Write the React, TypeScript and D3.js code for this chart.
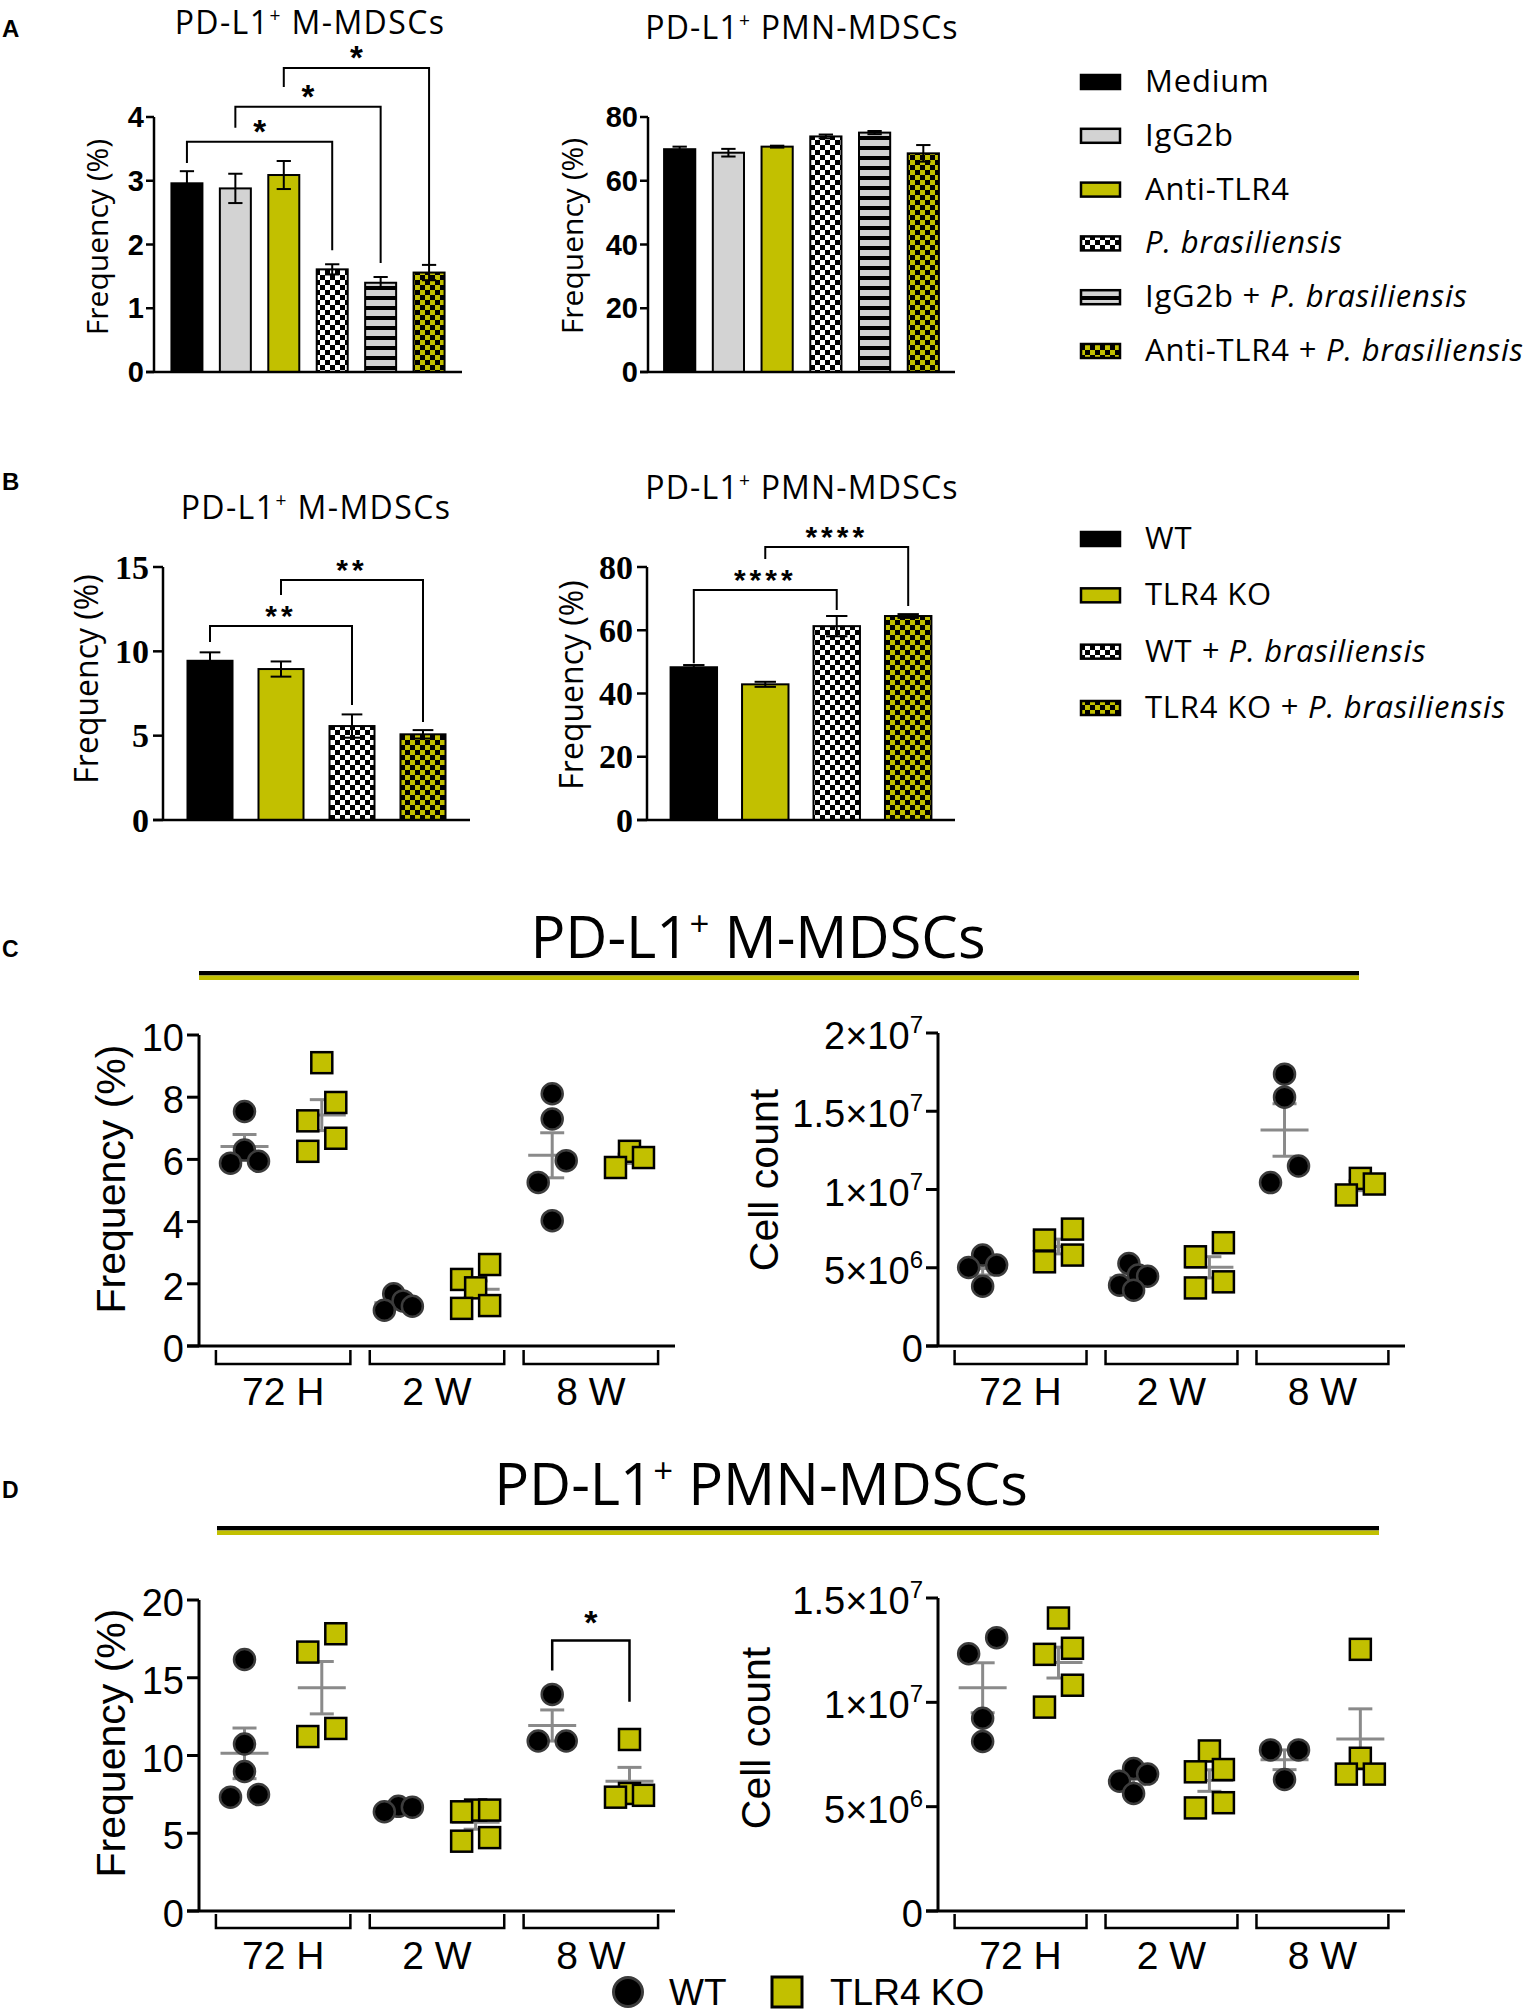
import React from "react";
import * as d3 from "d3";

// ---------------- DATA ----------------
const treatmentsA = ["Medium", "IgG2b", "Anti-TLR4", "P. brasiliensis", "IgG2b + P. brasiliensis", "Anti-TLR4 + P. brasiliensis"];
const aMMean = [2.96, 2.88, 3.09, 1.61, 1.4, 1.56];
const aMSem = [0.19, 0.23, 0.22, 0.08, 0.09, 0.12];
const aPMNMean = [69.9, 68.8, 70.7, 73.9, 75.1, 68.6];
const aPMNSem = [0.8, 1.2, 0.3, 0.6, 0.5, 2.6];
const aMTicks = [0, 1, 2, 3, 4];
const aPMNTicks = [0, 20, 40, 60, 80];
const aMSig = [
  { from: 0, to: 3, y: 3.61, l: 3.28, r: 1.91, label: "*" },
  { from: 1, to: 4, y: 4.16, l: 3.83, r: 1.71, label: "*" },
  { from: 2, to: 5, y: 4.77, l: 4.47, r: 1.68, label: "*" },
];

const groupsB = ["WT", "TLR4 KO", "WT + P. brasiliensis", "TLR4 KO + P. brasiliensis"];
const groupsBItalicFrom = [-1, -1, 3, 10];
const bMMean = [9.44, 8.95, 5.57, 5.08];
const bMSem = [0.5, 0.45, 0.69, 0.25];
const bPMNMean = [48.3, 42.9, 61.3, 64.5];
const bPMNSem = [0.7, 0.8, 3.2, 0.6];
const bMTicks = [0, 5, 10, 15];
const bPMNTicks = [0, 20, 40, 60, 80];
const bMSig = [
  { from: 0, to: 2, y: 11.5, l: 10.55, r: 6.82, label: "**" },
  { from: 1, to: 3, y: 14.23, l: 13.34, r: 5.81, label: "**" },
];
const bPMNSig = [
  { from: 0, to: 2, y: 72.7, l: 49.6, r: 66.4, label: "****" },
  { from: 1, to: 3, y: 86.3, l: 82.5, r: 67.7, label: "****" },
];

const timepoints = ["72 H", "2 W", "8 W"];
const genotypes = ["WT", "TLR4 KO"];

// C: PD-L1+ M-MDSCs
const cFreqWT = [[7.54, 6.3, 5.94, 5.88], [1.68, 1.45, 1.28, 1.15], [8.11, 7.3, 5.96, 5.26, 4.03]];
const cFreqKO = [[9.11, 7.83, 7.24, 6.68, 6.26], [2.62, 2.14, 1.87, 1.3, 1.21], [6.26, 6.06, 5.74]];
const cCountWT = [[5.81, 5.17, 5.02, 3.82], [5.27, 4.53, 4.46, 3.88, 3.56], [17.37, 15.9, 11.5, 10.44]]; // x10^6
const cCountKO = [[7.47, 6.77, 5.81, 5.38], [6.6, 5.7, 4.1, 3.71], [10.71, 10.35, 9.65]]; // x10^6
const cFreqTicks = [0, 2, 4, 6, 8, 10];
const cCountTicks = [0, 5, 10, 15, 20]; // x10^6

// D: PD-L1+ PMN-MDSCs
const dFreqWT = [[16.17, 10.74, 8.97, 7.49, 7.32], [6.73, 6.68, 6.38], [13.93, 10.93, 10.93]];
const dFreqKO = [[17.83, 16.65, 11.74, 11.22], [6.49, 6.49, 6.38, 4.72, 4.49], [11.03, 7.56, 7.44, 7.32]];
const dCountWT = [[13.1, 12.33, 9.24, 8.12], [6.83, 6.56, 6.22, 5.63], [7.72, 7.72, 6.3]]; // x10^6
const dCountKO = [[14.04, 12.59, 12.3, 10.82, 9.77], [7.67, 6.78, 6.67, 5.19, 4.94], [12.54, 7.32, 6.56, 6.56]]; // x10^6
const dFreqTicks = [0, 5, 10, 15, 20];
const dCountTicks = [0, 5, 10, 15]; // x10^6
const dFreqSig = { group: 2, y: 17.4, l: 15.47, r: 13.46, label: "*" };

// ---------------- STYLE ----------------
const OLIVE = "#C2C000";
const LGRAY = "#D3D3D3";
const SEMGRAY = "#8a8a8a";
const SANS = "'Open Sans', 'Noto Sans', sans-serif";
const ARIAL = "'Liberation Sans', Arial, sans-serif";
const SERIF = "'Liberation Serif', 'Times New Roman', serif";
const fillsA = ["#000", LGRAY, OLIVE, "url(#chkW)", "url(#stripe)", "url(#chkO)"];
const fillsB = ["#000", OLIVE, "url(#chkW)", "url(#chkO)"];

type Sig = { from: number; to: number; y: number; l: number; r: number; label: string };

function Defs() {
  return (
    <defs>
      <pattern id="chkW" width={10} height={10} patternUnits="userSpaceOnUse">
        <rect width={10} height={10} fill="#000" />
        <rect width={5} height={5} fill="#fff" />
        <rect x={5} y={5} width={5} height={5} fill="#fff" />
      </pattern>
      <pattern id="chkO" width={10} height={10} patternUnits="userSpaceOnUse">
        <rect width={10} height={10} fill="#000" />
        <rect width={5} height={5} fill={OLIVE} />
        <rect x={5} y={5} width={5} height={5} fill={OLIVE} />
      </pattern>
      <pattern id="stripe" width={10} height={10} patternUnits="userSpaceOnUse">
        <rect width={10} height={10} fill={LGRAY} />
        <rect y={6} width={10} height={4} fill="#000" />
      </pattern>
    </defs>
  );
}

function PDTitle({ x, y, fs, rest, ls = 0 }: { x: number; y: number; fs: number; rest: string; ls?: number }) {
  return (
    <text x={x} y={y} textAnchor="middle" fontFamily={SANS} fontSize={fs} letterSpacing={ls} fill="#000">
      PD-L1
      <tspan fontSize={fs * 0.6} dy={-fs * 0.38}>+</tspan>
      <tspan dy={fs * 0.38}>{" " + rest}</tspan>
    </text>
  );
}

function YLabel({ x, y, fs, text, family }: { x: number; y: number; fs: number; text: string; family: string }) {
  return (
    <text transform={`translate(${x},${y}) rotate(-90)`} textAnchor="middle" fontFamily={family} fontSize={fs} fill="#000">
      {text}
    </text>
  );
}

function BarPanel(p: {
  x0: number; x1: number; y0: number; yTop: number; max: number; ticks: number[];
  means: number[]; sems: number[]; fills: string[]; pi: number; po: number;
  tickFamily: string; tickFs: number; tickLen: number; tickDy: number; tickGap: number;
  sig: Sig[]; starFs: number; starDy: number; starSpacing: number; sw: number;
}) {
  const x = d3.scaleBand<number>().domain(d3.range(p.means.length)).range([p.x0, p.x1]).paddingInner(p.pi).paddingOuter(p.po);
  const y = d3.scaleLinear().domain([0, p.max]).range([p.y0, p.yTop]);
  const bw = x.bandwidth();
  const cx = (i: number) => (x(i) as number) + bw / 2;
  const cap = bw * 0.23;
  return (
    <g>
      {p.means.map((m, i) => (
        <g key={i}>
          <rect x={x(i)} y={y(m)} width={bw} height={p.y0 - y(m)} fill={p.fills[i]} stroke="#000" strokeWidth={2} />
          <line x1={cx(i)} x2={cx(i)} y1={y(m - p.sems[i])} y2={y(m + p.sems[i])} stroke="#000" strokeWidth={2} />
          <line x1={cx(i) - cap} x2={cx(i) + cap} y1={y(m + p.sems[i])} y2={y(m + p.sems[i])} stroke="#000" strokeWidth={2} />
          <line x1={cx(i) - cap} x2={cx(i) + cap} y1={y(m - p.sems[i])} y2={y(m - p.sems[i])} stroke="#000" strokeWidth={2} />
        </g>
      ))}
      <line x1={p.x0} x2={p.x0} y1={p.y0} y2={p.yTop} stroke="#000" strokeWidth={p.sw} />
      <line x1={p.x0 - p.tickLen} x2={p.x1} y1={p.y0} y2={p.y0} stroke="#000" strokeWidth={p.sw} />
      {p.ticks.map((t) => (
        <g key={t}>
          <line x1={p.x0 - p.tickLen} x2={p.x0} y1={y(t)} y2={y(t)} stroke="#000" strokeWidth={p.sw} />
          <text x={p.x0 - p.tickLen - p.tickGap} y={y(t) + p.tickDy} textAnchor="end" fontFamily={p.tickFamily} fontWeight="bold" fontSize={p.tickFs}>
            {t}
          </text>
        </g>
      ))}
      {p.sig.map((s, k) => {
        const xa = cx(s.from), xb = cx(s.to);
        return (
          <g key={k}>
            <path d={`M${xa},${y(s.l)}V${y(s.y)}H${xb}V${y(s.r)}`} fill="none" stroke="#000" strokeWidth={2} />
            <text x={(xa + xb) / 2} y={y(s.y) - p.starDy} textAnchor="middle" fontFamily={ARIAL} fontWeight="bold" fontSize={p.starFs} letterSpacing={p.starSpacing}>
              {s.label}
            </text>
          </g>
        );
      })}
    </g>
  );
}

function swarmOffsets(vals: number[], y: (v: number) => number, half: number, thr: number) {
  const idx = d3.range(vals.length).sort((a, b) => vals[b] - vals[a]);
  const rows: number[][] = [];
  let cur: number[] = [];
  let startY = 0;
  for (const i of idx) {
    const py = y(vals[i]);
    if (cur.length && py - startY <= thr) cur.push(i);
    else {
      if (cur.length) rows.push(cur);
      cur = [i];
      startY = py;
    }
  }
  if (cur.length) rows.push(cur);
  const off = new Array(vals.length).fill(0);
  for (const r of rows) {
    const n = r.length;
    if (n === 1) continue;
    const pos = d3.range(n).map((k) => -half + (2 * half * k) / (n - 1));
    const order = [...pos].sort((a, b) => Math.abs(a) - Math.abs(b) || b - a);
    r.forEach((i, k) => (off[i] = order[k]));
  }
  return off;
}

function sciLabel(v: number) {
  if (v === 0) return { base: "0", exp: "" };
  const n = v * 1e6;
  const e = Math.floor(Math.log10(n) + 1e-9);
  const m = n / Math.pow(10, e);
  return { base: d3.format("~g")(m) + "×10", exp: String(e) };
}

function ScatterPanel(p: {
  x0: number; x1: number; y0: number; yTop: number; max: number; ticks: number[]; sci: boolean;
  wt: number[][]; ko: number[][]; brTop: number; brLine: number; labelY: number;
  sig?: { group: number; y: number; l: number; r: number; label: string };
}) {
  const x = d3.scaleBand<number>().domain(d3.range(timepoints.length)).range([p.x0, p.x1]).paddingInner(0.126).paddingOuter(0.11);
  const bw = x.bandwidth();
  const sub = d3.scalePoint<string>().domain(genotypes).range([0, bw]).padding(0.37);
  const y = d3.scaleLinear().domain([0, p.max]).range([p.y0, p.yTop]);
  const R = 10.5;
  const half = 14;
  const tickLen = 12;
  const series = [
    { key: "WT", data: p.wt },
    { key: "TLR4 KO", data: p.ko },
  ];
  const gx = (g: number, s: string) => (x(g) as number) + (sub(s) as number);
  return (
    <g>
      {series.map((s) =>
        s.data.map((vals, g) => {
          const m = d3.mean(vals) as number;
          const se = (d3.deviation(vals) as number) / Math.sqrt(vals.length);
          const c = gx(g, s.key);
          return (
            <g key={s.key + g} stroke={SEMGRAY} strokeWidth={3}>
              <line x1={c - 24} x2={c + 24} y1={y(m)} y2={y(m)} />
              <line x1={c} x2={c} y1={y(m - se)} y2={y(m + se)} />
              <line x1={c - 12} x2={c + 12} y1={y(m + se)} y2={y(m + se)} />
              <line x1={c - 12} x2={c + 12} y1={y(m - se)} y2={y(m - se)} />
            </g>
          );
        })
      )}
      {series.map((s) =>
        s.data.map((vals, g) => {
          const c = gx(g, s.key);
          const off = swarmOffsets(vals, y, half, 22);
          return vals.map((v, i) =>
            s.key === "WT" ? (
              <circle key={s.key + g + "-" + i} cx={c + off[i]} cy={y(v)} r={R} fill="#000" stroke="#3c3c3c" strokeWidth={2.5} />
            ) : (
              <rect key={s.key + g + "-" + i} x={c + off[i] - R} y={y(v) - R} width={2 * R} height={2 * R} fill={OLIVE} stroke="#000" strokeWidth={2.5} />
            )
          );
        })
      )}
      <line x1={p.x0} x2={p.x0} y1={p.y0} y2={p.yTop} stroke="#000" strokeWidth={3} />
      <line x1={p.x0 - tickLen} x2={p.x1} y1={p.y0} y2={p.y0} stroke="#000" strokeWidth={3} />
      {p.ticks.map((t) => {
        const lab = p.sci ? sciLabel(t) : { base: String(t), exp: "" };
        return (
          <g key={t}>
            <line x1={p.x0 - tickLen} x2={p.x0} y1={y(t)} y2={y(t)} stroke="#000" strokeWidth={3} />
            <text x={p.x0 - tickLen - 3} y={y(t) + 16} textAnchor="end" fontFamily={ARIAL} fontSize={38}>
              {lab.base}
              {lab.exp && (
                <tspan fontSize={24} dy={-16}>
                  {lab.exp}
                </tspan>
              )}
            </text>
          </g>
        );
      })}
      {timepoints.map((t, g) => {
        const a = x(g) as number;
        return (
          <g key={t}>
            <path d={`M${a},${p.brTop}V${p.brLine}H${a + bw}V${p.brTop}`} fill="none" stroke="#000" strokeWidth={2.5} />
            <text x={a + bw / 2} y={p.labelY} textAnchor="middle" fontFamily={ARIAL} fontSize={39}>
              {t}
            </text>
          </g>
        );
      })}
      {p.sig && (
        <g>
          <path
            d={`M${gx(p.sig.group, "WT")},${y(p.sig.l)}V${y(p.sig.y)}H${gx(p.sig.group, "TLR4 KO")}V${y(p.sig.r)}`}
            fill="none"
            stroke="#000"
            strokeWidth={2.5}
          />
          <text
            x={(gx(p.sig.group, "WT") + gx(p.sig.group, "TLR4 KO")) / 2}
            y={y(p.sig.y) - 6}
            textAnchor="middle"
            fontFamily={ARIAL}
            fontWeight="bold"
            fontSize={34}
          >
            {p.sig.label}
          </text>
        </g>
      )}
    </g>
  );
}

function LegendRow({ x, y, fill, label, italicFrom }: { x: number; y: number; fill: string; label: string; italicFrom: number }) {
  const plain = italicFrom < 0 ? label : label.slice(0, italicFrom);
  const ital = italicFrom < 0 ? "" : label.slice(italicFrom);
  return (
    <g>
      <rect x={x} y={y - 7} width={39} height={14} fill={fill} stroke="#000" strokeWidth={2.5} />
      <text x={x + 64} y={y + 10} fontFamily={SANS} fontSize={31} letterSpacing={0.8} xmlSpace="preserve">
        {plain}
        {ital && <tspan fontStyle="italic">{ital}</tspan>}
      </text>
    </g>
  );
}

export default function App() {
  const legARow = d3.scaleLinear().domain([0, 5]).range([82, 351]);
  const legBRow = d3.scaleLinear().domain([0, 3]).range([539, 708]);
  return (
    <div style={{ position: "absolute", left: 0, top: 0 }}>
      <svg width={1536} height={2016} viewBox="0 0 1536 2016" style={{ display: "block", background: "#fff" }}>
        <Defs />
        <rect width={1536} height={2016} fill="#fff" />

        <text x={2} y={37} fontFamily={ARIAL} fontWeight="bold" fontSize={24}>A</text>
        <text x={2} y={490} fontFamily={ARIAL} fontWeight="bold" fontSize={24}>B</text>
        <text x={2} y={957} fontFamily={ARIAL} fontWeight="bold" fontSize={23}>C</text>
        <text x={2} y={1498} fontFamily={ARIAL} fontWeight="bold" fontSize={23}>D</text>

        {/* ---------- A ---------- */}
        <PDTitle x={310} y={34} fs={32} ls={1.4} rest="M-MDSCs" />
        <YLabel x={108} y={237} fs={30} text="Frequency (%)" family={SANS} />
        <BarPanel
          x0={154} x1={462} y0={372} yTop={117} max={4} ticks={aMTicks}
          means={aMMean} sems={aMSem} fills={fillsA} pi={0.36} po={0.36}
          tickFamily={ARIAL} tickFs={29} tickLen={8} tickDy={10} tickGap={2}
          sig={aMSig} starFs={33} starDy={-1} starSpacing={0} sw={2.5}
        />
        <PDTitle x={802} y={39} fs={32} ls={1.2} rest="PMN-MDSCs" />
        <YLabel x={583} y={236} fs={30} text="Frequency (%)" family={SANS} />
        <BarPanel
          x0={648} x1={955} y0={372} yTop={117} max={80} ticks={aPMNTicks}
          means={aPMNMean} sems={aPMNSem} fills={fillsA} pi={0.36} po={0.33}
          tickFamily={ARIAL} tickFs={29} tickLen={8} tickDy={10} tickGap={2}
          sig={[]} starFs={33} starDy={0} starSpacing={0} sw={2.5}
        />
        {treatmentsA.map((t, i) => (
          <LegendRow key={t} x={1081} y={legARow(i)} fill={fillsA[i]} label={t} italicFrom={t.indexOf("P. bras")} />
        ))}

        {/* ---------- B ---------- */}
        <PDTitle x={316} y={519} fs={32} ls={1.4} rest="M-MDSCs" />
        <YLabel x={98} y={679} fs={32} text="Frequency (%)" family={SANS} />
        <BarPanel
          x0={163} x1={470} y0={820} yTop={567} max={15} ticks={bMTicks}
          means={bMMean} sems={bMSem} fills={fillsB} pi={0.366} po={0.345}
          tickFamily={SERIF} tickFs={34} tickLen={10} tickDy={11.5} tickGap={4}
          sig={bMSig} starFs={30} starDy={0} starSpacing={4} sw={2.5}
        />
        <PDTitle x={802} y={499} fs={32} ls={1.2} rest="PMN-MDSCs" />
        <YLabel x={583} y={685} fs={32} text="Frequency (%)" family={SANS} />
        <BarPanel
          x0={647} x1={955} y0={820} yTop={567} max={80} ticks={bPMNTicks}
          means={bPMNMean} sems={bPMNSem} fills={fillsB} pi={0.35} po={0.33}
          tickFamily={SERIF} tickFs={34} tickLen={10} tickDy={11.5} tickGap={4}
          sig={bPMNSig} starFs={30} starDy={0} starSpacing={4} sw={2.5}
        />
        {groupsB.map((t, i) => (
          <LegendRow key={t} x={1081} y={legBRow(i)} fill={fillsB[i]} label={t} italicFrom={groupsBItalicFrom[i]} />
        ))}

        {/* ---------- C ---------- */}
        <PDTitle x={758} y={958} fs={58} rest="M-MDSCs" />
        <rect x={199} y={971} width={1160} height={4.5} fill="#000" />
        <rect x={199} y={975.5} width={1160} height={4.5} fill={OLIVE} />
        <YLabel x={125} y={1179} fs={41} text="Frequency (%)" family={ARIAL} />
        <ScatterPanel
          x0={199} x1={675} y0={1346} yTop={1035} max={10} ticks={cFreqTicks} sci={false}
          wt={cFreqWT} ko={cFreqKO} brTop={1350} brLine={1364} labelY={1405}
        />
        <YLabel x={778} y={1180} fs={41} text="Cell count" family={ARIAL} />
        <ScatterPanel
          x0={938} x1={1405} y0={1346} yTop={1033} max={20} ticks={cCountTicks} sci={true}
          wt={cCountWT} ko={cCountKO} brTop={1350} brLine={1364} labelY={1405}
        />

        {/* ---------- D ---------- */}
        <PDTitle x={761} y={1505} fs={58} rest="PMN-MDSCs" />
        <rect x={217} y={1526} width={1162} height={4.5} fill="#000" />
        <rect x={217} y={1530.5} width={1162} height={4.5} fill={OLIVE} />
        <YLabel x={125} y={1743} fs={41} text="Frequency (%)" family={ARIAL} />
        <ScatterPanel
          x0={199} x1={675} y0={1911} yTop={1600} max={20} ticks={dFreqTicks} sci={false}
          wt={dFreqWT} ko={dFreqKO} brTop={1914} brLine={1928} labelY={1969} sig={dFreqSig}
        />
        <YLabel x={770} y={1738} fs={41} text="Cell count" family={ARIAL} />
        <ScatterPanel
          x0={938} x1={1405} y0={1911} yTop={1598} max={15} ticks={dCountTicks} sci={true}
          wt={dCountWT} ko={dCountKO} brTop={1914} brLine={1928} labelY={1969}
        />

        <circle cx={628} cy={1992} r={14.5} fill="#000" stroke="#3c3c3c" strokeWidth={3} />
        <text x={669} y={2005} fontFamily={ARIAL} fontSize={37}>{genotypes[0]}</text>
        <rect x={772} y={1977} width={30} height={30} fill={OLIVE} stroke="#000" strokeWidth={3} />
        <text x={830} y={2005} fontFamily={ARIAL} fontSize={37}>{genotypes[1]}</text>
      </svg>
    </div>
  );
}
